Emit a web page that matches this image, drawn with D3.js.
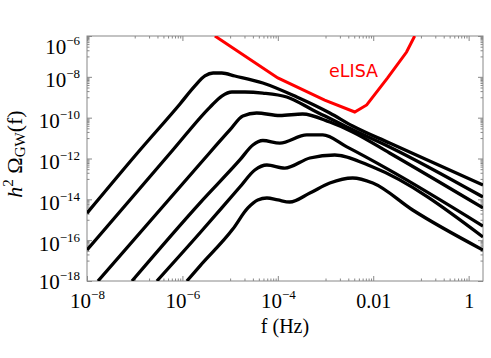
<!DOCTYPE html>
<html lang="en">
<head>
<meta charset="UTF-8">
<title>gw-spectra</title>
<script src="https://cdn.jsdelivr.net/npm/d3@7"></script>
<style>
  body { margin: 0; background: #fff; }
</style>
</head>
<body>
<div id="container"></div>
<script>
const width = 491, height = 358;
const margin = {top: 36, right: 8, bottom: 77, left: 87};
const serif = "'Liberation Serif', 'Times New Roman', serif";

// tick values (labelled decades)
const xTicks = [1e-8, 1e-6, 1e-4, 1e-2, 1];
const yTicks = [1e-18, 1e-16, 1e-14, 1e-12, 1e-10, 1e-8, 1e-6];

// spectra: [f (Hz), h^2 Omega_GW]
const curveA = [
  [1e-8, 2.1e-15], [1.29e-7, 2.6e-12], [8.9e-7, 4.7e-10], [1.83e-6, 3.6e-9],
  [2.96e-6, 1.1e-8], [4.4e-6, 1.54e-8], [6.7e-6, 1.54e-8], [1.26e-5, 1.1e-8],
  [4.85e-5, 5.0e-9], [2.5e-4, 1.03e-9], [1.23e-3, 1.69e-10], [3.7e-3, 3.9e-11],
  [2.2e-2, 5.7e-12], [2, 5.0e-14]
];
const curveB = [
  [1e-8, 3.3e-17], [6.3e-7, 2.6e-12], [3.8e-6, 3.3e-10], [6.7e-6, 1.15e-9],
  [1.09e-5, 1.81e-9], [2.04e-5, 1.81e-9], [4.85e-5, 1.61e-9], [1.54e-4, 1.03e-9],
  [5.4e-4, 2.4e-10], [2.8e-3, 3.5e-11], [2.2e-2, 3.7e-12], [2, 1.3e-14]
];
const curveC = [
  [1.7e-8, 1e-18], [2.32e-6, 5.4e-13], [9.9e-6, 2.5e-11], [1.85e-5, 1.21e-10],
  [3.6e-5, 1.69e-10], [1.1e-4, 1.28e-10], [3.3e-4, 1.51e-10], [1.23e-3, 6.1e-11],
  [3.7e-3, 2.0e-11], [2.2e-2, 1.86e-12], [2, 3.8e-15]
];
const curveD = [
  [8.75e-8, 1e-18], [2.32e-6, 6.6e-15], [1.6e-5, 8.5e-13], [3.0e-5, 4.6e-12],
  [4.85e-5, 7.6e-12], [1.1e-4, 5.7e-12], [4.05e-4, 1.42e-11], [8.75e-4, 1.42e-11],
  [2.8e-3, 3.7e-12], [2.2e-2, 2.7e-13], [2, 4.9e-16]
];
const curveE = [
  [2.92e-7, 1e-18], [2.32e-6, 2.24e-16], [1.6e-5, 4.0e-14], [3.3e-5, 2.74e-13],
  [5.9e-5, 4.8e-13], [1.4e-4, 3.4e-13], [4.7e-4, 1.06e-12], [1.56e-3, 1.48e-12],
  [9.8e-3, 3.8e-13], [2, 1.43e-16]
];
const curveF = [
  [1.24e-6, 1e-18], [2.32e-6, 5.4e-18], [1.14e-5, 3.5e-16], [2.36e-5, 3.8e-15],
  [3.8e-5, 9.3e-15], [5.9e-5, 1.16e-14], [1e-4, 9.3e-15], [1.78e-4, 7.4e-15],
  [4.7e-4, 2.04e-14], [1.23e-3, 6.3e-14], [3.7e-3, 1.11e-13], [9.8e-3, 6.3e-14],
  [6.7e-2, 3.0e-15], [2, 3.3e-17]
];
// eLISA sensitivity curve
const eLISA = [
  [4.8e-6, 1e-6], [1e-4, 8.8e-9], [9.6e-4, 7.3e-10], [4.1e-3, 1.9e-10],
  [7.3e-3, 4.2e-10], [2.0e-2, 8.8e-9], [5.0e-2, 1.64e-7], [7.4e-2, 1e-6]
];
const spectra = [curveA, curveB, curveC, curveD, curveE, curveF];

const svg = d3.select("#container").append("svg")
  .attr("width", width).attr("height", height);

const x = d3.scaleLog().domain([1e-8, 2]).range([margin.left, width - margin.right]);
const y = d3.scaleLog().domain([1e-18, 1e-6]).range([height - margin.bottom, margin.top]);

// minor ticks: 1..9 x the decade below each labelled one
const minorOf = (ticks, dom) => ticks.flatMap(t => d3.range(1, 10).map(m => m * t / 10))
  .filter(v => v >= dom[0] && v <= dom[1]);
const xMinor = minorOf(xTicks, x.domain());
const yMinor = minorOf(yTicks, y.domain());

const x0 = x.range()[0], x1 = x.range()[1], y0 = y.range()[0], y1 = y.range()[1];

// clip
svg.append("clipPath").attr("id", "plot")
  .append("rect")
  .attr("x", x0).attr("y", y1)
  .attr("width", x1 - x0).attr("height", y0 - y1);

// axes (ticks inward, on all sides)
function frameAxis(axisFn, scale, ticks, len) {
  return axisFn(scale).tickValues(ticks).tickSizeInner(-len).tickSizeOuter(0).tickFormat("");
}
const axisCol = "#888";

[[xMinor, 2.5], [xTicks, 5]].forEach(([t, len]) => {
  svg.append("g").attr("transform", `translate(0,${y0})`).attr("color", axisCol)
    .attr("class", len === 5 ? "xmaj" : null)
    .call(frameAxis(d3.axisBottom, x, t, len));
  svg.append("g").attr("transform", `translate(0,${y1})`).attr("color", axisCol)
    .call(frameAxis(d3.axisTop, x, t, len));
});
[[yMinor, 2.5], [yTicks, 5]].forEach(([t, len]) => {
  svg.append("g").attr("transform", `translate(${x0},0)`).attr("color", axisCol)
    .attr("class", len === 5 ? "ymaj" : null)
    .call(frameAxis(d3.axisLeft, y, t, len));
  svg.append("g").attr("transform", `translate(${x1},0)`).attr("color", axisCol)
    .call(frameAxis(d3.axisRight, y, t, len));
});
svg.selectAll(".domain").remove();

svg.append("rect")
  .attr("x", x0).attr("y", y1)
  .attr("width", x1 - x0).attr("height", y0 - y1)
  .attr("fill", "none").attr("stroke", axisCol).attr("stroke-width", 1);

// tick labels
function tickLabel(sel, v) {
  const n = Math.round(Math.log10(v));
  sel.text("");
  if (n === -2) { sel.append("tspan").attr("font-size", 20).text("0.01"); return; }
  if (n === 0) { sel.append("tspan").attr("font-size", 20).text("1"); return; }
  sel.append("tspan").attr("font-size", 21).text("10");
  sel.append("tspan").attr("font-size", 13).attr("dy", -9).text("\u2212" + Math.abs(n));
}
svg.select(".xmaj").selectAll(".tick text")
  .attr("y", 27).attr("dy", null)
  .attr("font-family", serif).attr("fill", "#000")
  .each(function (d) { tickLabel(d3.select(this), d); });
svg.select(".ymaj").selectAll(".tick text")
  .attr("x", -7).attr("dy", null)
  .attr("y", d => d === 1e-6 ? 17 : d === 1e-18 ? 7 : 10)
  .attr("font-family", serif).attr("fill", "#000")
  .each(function (d) { tickLabel(d3.select(this), d); });

// curves
const line = d3.line().x(d => x(d[0])).y(d => y(d[1])).curve(d3.curveMonotoneX);
const g = svg.append("g").attr("clip-path", "url(#plot)");
g.selectAll("path.spec").data(spectra).join("path")
  .attr("class", "spec")
  .attr("d", line)
  .attr("fill", "none").attr("stroke", "#000")
  .attr("stroke-width", 3.3).attr("stroke-linejoin", "round");

g.append("path").datum(eLISA)
  .attr("d", d3.line().x(d => x(d[0])).y(d => y(d[1])))
  .attr("fill", "none").attr("stroke", "#ff0000").attr("stroke-width", 3);

svg.append("text")
  .attr("x", 329).attr("y", 77)
  .attr("font-family", "'DejaVu Sans', sans-serif").attr("font-size", 17.5)
  .attr("fill", "#ff0000").text("eLISA");

// axis titles
svg.append("text")
  .attr("x", (x0 + x1) / 2).attr("y", 333)
  .attr("text-anchor", "middle")
  .attr("font-family", serif).attr("font-size", 20)
  .text("f (Hz)");

svg.append("text")
  .attr("transform", `translate(22,154) rotate(-90)`)
  .attr("text-anchor", "middle")
  .attr("font-family", serif).attr("font-size", 22)
  .call(t => {
    t.append("tspan").attr("font-style", "italic").text("h");
    t.append("tspan").attr("font-size", 15).attr("dy", -9).text("2");
    t.append("tspan").attr("dy", 9).text("\u00A0\u03A9");
    t.append("tspan").attr("font-size", 15).attr("dy", 3).text("GW");
    t.append("tspan").attr("dy", -3).text("(f)");
  });
</script>
</body>
</html>
